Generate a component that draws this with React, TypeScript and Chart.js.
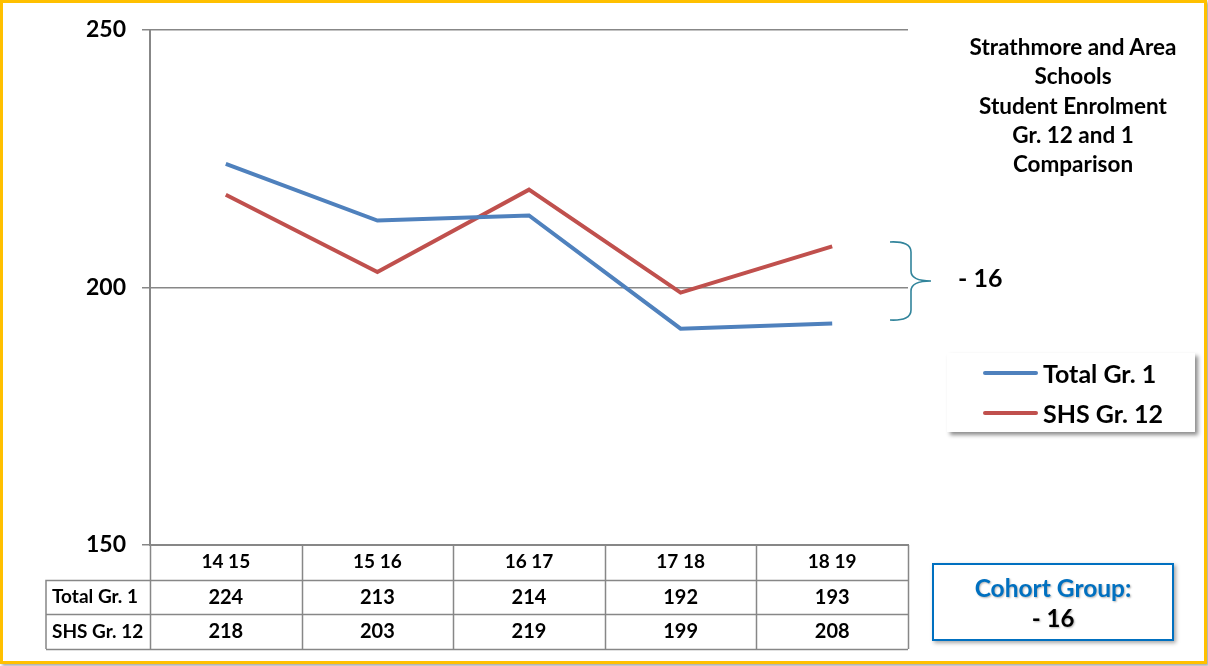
import React, { useEffect, useRef } from "react";
import { Chart, registerables } from "chart.js";

Chart.register(...registerables);

const categories = ["14 15", "15 16", "16 17", "17 18", "18 19"];
const totalGr1 = [224, 213, 214, 192, 193];
const shsGr12 = [218, 203, 219, 199, 208];
const seriesNames = ["Total Gr. 1", "SHS Gr. 12"];
const yTicks = [150, 200, 250];
const titleLines = ["Strathmore and Area", "Schools", "Student Enrolment", "Gr. 12 and 1", "Comparison"];
const cohortLabel = "Cohort Group:";
const cohortValue = "- 16";

const FONT = "Lato, 'Open Sans', sans-serif";
const BLUE = "#4F81BD";
const RED = "#C0504D";
const GRID = "#878787";

const tablePlugin = {
  id: "dataTable",
  afterDraw(chart: any) {
    const ctx = chart.ctx;
    const xs = chart.scales.x;
    const area = chart.chartArea;
    const n = categories.length;
    const band = (area.right - area.left) / n;
    const top = area.bottom;
    const rowH = 34.7;
    const r1 = top + rowH;
    const r2 = r1 + rowH;
    const r3 = r2 + rowH;
    const labelLeft = 46;
    ctx.save();
    ctx.strokeStyle = GRID;
    ctx.lineWidth = 1.5;
    ctx.beginPath();
    for (let i = 0; i <= n; i++) {
      const x = Math.round(area.left + band * i) + 0.5;
      ctx.moveTo(x, top);
      ctx.lineTo(x, r3);
    }
    ctx.moveTo(labelLeft, r1);
    ctx.lineTo(labelLeft, r3);
    [r1, r2, r3].forEach((y) => {
      ctx.moveTo(labelLeft, Math.round(y) + 0.5);
      ctx.lineTo(area.right, Math.round(y) + 0.5);
    });
    ctx.stroke();

    ctx.fillStyle = "#000";
    ctx.textBaseline = "middle";
    ctx.textAlign = "center";
    categories.forEach((c, i) => {
      const cx = xs.getPixelForValue(i);
      ctx.font = `bold 19px ${FONT}`;
      ctx.fillText(c, cx, top + rowH / 2);
      ctx.font = `bold 20px ${FONT}`;
      ctx.fillText(String(totalGr1[i]), cx, r1 + rowH / 2);
      ctx.fillText(String(shsGr12[i]), cx, r2 + rowH / 2);
    });
    ctx.textAlign = "left";
    ctx.font = `bold 19px ${FONT}`;
    ctx.fillText(seriesNames[0], labelLeft + 6, r1 + rowH / 2);
    ctx.fillText(seriesNames[1], labelLeft + 6, r2 + rowH / 2);
    ctx.restore();
  },
};

export default function App() {
  const ref = useRef<HTMLCanvasElement | null>(null);

  useEffect(() => {
    if (!ref.current) return;
    const chart = new Chart(ref.current, {
      type: "line",
      data: {
        labels: categories,
        datasets: [
          { label: seriesNames[0], data: totalGr1, borderColor: BLUE, backgroundColor: BLUE, borderWidth: 4, pointRadius: 0, tension: 0 },
          { label: seriesNames[1], data: shsGr12, borderColor: RED, backgroundColor: RED, borderWidth: 4, pointRadius: 0, tension: 0 },
        ],
      },
      options: {
        responsive: false,
        animation: false,
        layout: { padding: { left: 0, right: 300, top: 30, bottom: 0 } },
        plugins: { legend: { display: false }, tooltip: { enabled: false }, title: { display: false } },
        scales: {
          x: {
            type: "category",
            offset: true,
            ticks: { display: false },
            grid: { display: false },
            border: { display: true, color: GRID, width: 2 },
            afterFit: (s: any) => { s.height = 121; },
          },
          y: {
            min: 150,
            max: 250,
            afterBuildTicks: (s: any) => { s.ticks = yTicks.map((v) => ({ value: v })); },
            ticks: { color: "#000", font: { family: FONT, size: 23, weight: "bold" }, padding: 16 },
            grid: { color: GRID, lineWidth: 1.5, tickLength: 8, drawTicks: true },
            border: { display: true, color: GRID, width: 2 },
            afterFit: (s: any) => { s.width = 150; },
          },
        },
      },
      plugins: [tablePlugin],
    });
    return () => chart.destroy();
  }, []);

  const legendColors = [BLUE, RED];

  return (
    <div style={{ position: "fixed", left: 0, top: 0, width: 1208, height: 666, background: "#fff", fontFamily: FONT, overflow: "hidden" }}>
      <canvas ref={ref} width={1208} height={666} style={{ position: "absolute", left: 0, top: 0 }} />
      <div style={{ position: "absolute", left: 0, top: 0, width: 1207, height: 664, boxSizing: "border-box", border: "3px solid #FFC000", boxShadow: "2px 2px 3px rgba(0,0,0,0.35)", pointerEvents: "none" }} />
      <div style={{ position: "absolute", left: 943, top: 32, width: 260, textAlign: "center", fontWeight: "bold", fontSize: 22.5, lineHeight: "29.3px", color: "#000", whiteSpace: "nowrap" }}>
        {titleLines.map((t, i) => <div key={i}>{t}</div>)}
      </div>
      <svg style={{ position: "absolute", left: 0, top: 0 }} width={1208} height={666}>
        <path d="M890 242 Q911 241 911 252 L911 271 Q911 281 931 281 Q911 281 911 291 L911 310 Q911 321 890 320" fill="none" stroke="#31849B" strokeWidth={1.6} />
      </svg>
      <div style={{ position: "absolute", left: 958, top: 261, fontWeight: "bold", fontSize: 25, lineHeight: "32px", color: "#000" }}>- 16</div>
      <div style={{ position: "absolute", left: 947, top: 353, width: 248, height: 79, background: "#fff", boxShadow: "3px 3px 4px rgba(0,0,0,0.45)", boxSizing: "border-box" }}>
        {seriesNames.map((n, i) => (
          <div key={i} style={{ position: "absolute", left: 36, top: 6 + i * 40, height: 28, display: "flex", alignItems: "center" }}>
            <div style={{ width: 55, height: 4, background: legendColors[i], borderRadius: 2, marginRight: 5 }} />
            <div style={{ fontWeight: "bold", fontSize: 25, color: "#000", whiteSpace: "nowrap" }}>{n}</div>
          </div>
        ))}
      </div>
      <div style={{ position: "absolute", left: 932, top: 563, width: 242, height: 78, boxSizing: "border-box", border: "2px solid #0070C0", background: "#fff", boxShadow: "2px 2px 4px rgba(0,0,0,0.35)", textAlign: "center", fontWeight: "bold" }}>
        <div style={{ fontSize: 24.5, color: "#0070C0", marginTop: 9, lineHeight: "28px", textShadow: "1px 1px 2px rgba(0,0,0,0.3)" }}>{cohortLabel}</div>
        <div style={{ fontSize: 24, color: "#000", lineHeight: "31px", textShadow: "1px 1px 2px rgba(0,0,0,0.3)" }}>{cohortValue}</div>
      </div>
    </div>
  );
}
